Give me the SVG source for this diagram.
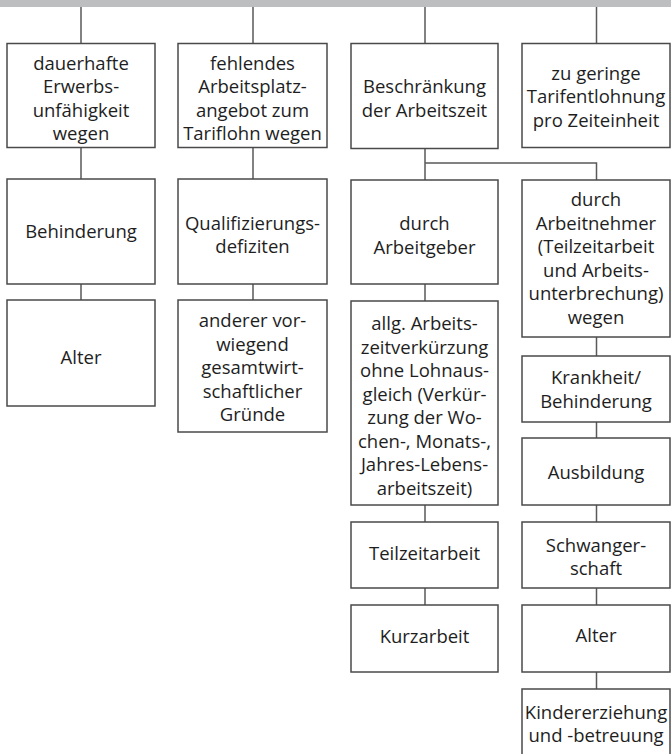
<svg xmlns="http://www.w3.org/2000/svg" width="671" height="754" viewBox="0 0 671 754">
<style>
.box{fill:#fff;stroke:#4a4a4a;stroke-width:1.5}
.ln{fill:none;stroke:#5a5a5a;stroke-width:1.5}
text{font-family:"Open Sans","Noto Sans",sans-serif;font-size:18.5px;fill:#1e1e1e;text-anchor:middle}
</style>
<rect x="0" y="0" width="671" height="7" fill="#bdbec0"/>
<g id="connectors">
<path class="ln" d="M81 7V43M253 7V43M425 7V43M596.5 7V43"/>
<path class="ln" d="M81 148V179M81 284V300"/>
<path class="ln" d="M253 148V179M253 284V300"/>
<path class="ln" d="M425 149V180M425 163H596.5V180"/>
<path class="ln" d="M425 284V301M425 505V522M425 588V605"/>
<path class="ln" d="M596.5 337V356M596.5 422V438M596.5 505V522M596.5 588V605M596.5 672V689"/>
</g>
<g id="n1"><rect class="box" x="7" y="43.5" width="148" height="104"/>
<text x="81" y="69.5">dauerhafte</text><text x="81" y="93">Erwerbs-</text><text x="81" y="116.5">unfähigkeit</text><text x="81" y="140">wegen</text></g>
<g id="n2"><rect class="box" x="178" y="43.5" width="149" height="104"/>
<text x="252.5" y="69.5">fehlendes</text><text x="252.5" y="93">Arbeitsplatz-</text><text x="252.5" y="116.5">angebot zum</text><text x="252.5" y="140">Tariflohn wegen</text></g>
<g id="n3"><rect class="box" x="351" y="43.5" width="147" height="105"/>
<text x="424.5" y="93">Beschränkung</text><text x="424.5" y="116.5">der Arbeitszeit</text></g>
<g id="n4"><rect class="box" x="522" y="43.5" width="148" height="104"/>
<text x="596" y="79.5">zu geringe</text><text x="596" y="103">Tarifentlohnung</text><text x="596" y="126.5">pro Zeiteinheit</text></g>
<g id="n5"><rect class="box" x="7" y="179" width="148" height="105"/>
<text x="81" y="237.5">Behinderung</text></g>
<g id="n6"><rect class="box" x="7" y="300" width="148" height="106"/>
<text x="81" y="364">Alter</text></g>
<g id="n7"><rect class="box" x="178" y="179" width="149" height="105"/>
<text x="252.5" y="229.5">Qualifizierungs-</text><text x="252.5" y="253">defiziten</text></g>
<g id="n8"><rect class="box" x="178" y="300" width="149" height="132"/>
<text x="252.5" y="327">anderer vor-</text><text x="252.5" y="350.5">wiegend</text><text x="252.5" y="374">gesamtwirt-</text><text x="252.5" y="397.5">schaftlicher</text><text x="252.5" y="421">Gründe</text></g>
<g id="n9"><rect class="box" x="351" y="180" width="147" height="104"/>
<text x="424.5" y="230">durch</text><text x="424.5" y="253.5">Arbeitgeber</text></g>
<g id="n10"><rect class="box" x="351" y="301" width="147" height="204"/>
<text x="424.5" y="330">allg. Arbeits-</text><text x="424.5" y="353.5">zeitverkürzung</text><text x="424.5" y="377">ohne Lohnaus-</text><text x="424.5" y="400.5">gleich (Verkür-</text><text x="424.5" y="424">zung der Wo-</text><text x="424.5" y="447.5">chen-, Monats-,</text><text x="424.5" y="471">Jahres-Lebens-</text><text x="424.5" y="494.5">arbeitszeit)</text></g>
<g id="n11"><rect class="box" x="351" y="522" width="147" height="66"/>
<text x="424.5" y="560">Teilzeitarbeit</text></g>
<g id="n12"><rect class="box" x="351" y="605" width="147" height="67"/>
<text x="424.5" y="643">Kurzarbeit</text></g>
<g id="n13"><rect class="box" x="522" y="180" width="148" height="157"/>
<text x="596" y="206">durch</text><text x="596" y="229.5">Arbeitnehmer</text><text x="596" y="253">(Teilzeitarbeit</text><text x="596" y="276.5">und Arbeits-</text><text x="596" y="300">unterbrechung)</text><text x="596" y="323.5">wegen</text></g>
<g id="n14"><rect class="box" x="522" y="356" width="148" height="66"/>
<text x="596" y="384">Krankheit/</text><text x="596" y="407.5">Behinderung</text></g>
<g id="n15"><rect class="box" x="522" y="438" width="148" height="67"/>
<text x="596" y="478.5">Ausbildung</text></g>
<g id="n16"><rect class="box" x="522" y="522" width="148" height="66"/>
<text x="596" y="551.5">Schwanger-</text><text x="596" y="575">schaft</text></g>
<g id="n17"><rect class="box" x="522" y="605" width="148" height="67"/>
<text x="596" y="642">Alter</text></g>
<g id="n18"><rect class="box" x="522" y="689" width="148" height="80"/>
<text x="596" y="718.5">Kindererziehung</text><text x="596" y="742">und -betreuung</text></g>
</svg>
